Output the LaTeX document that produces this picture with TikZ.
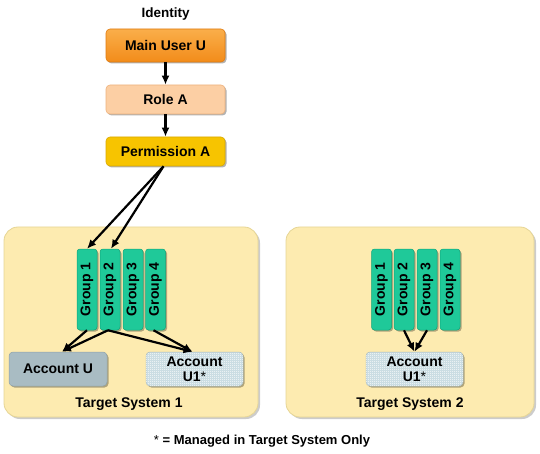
\documentclass[tikz,border=0pt]{standalone}
\usepackage{fontspec}
\setmainfont{Liberation Sans}
\usetikzlibrary{shadows,arrows.meta,patterns}
\pgfdeclarepatternformonly{finecheck}{\pgfpointorigin}{\pgfqpoint{2pt}{2pt}}{\pgfqpoint{2pt}{2pt}}{%
  \pgfpathrectangle{\pgfpointorigin}{\pgfqpoint{1pt}{1pt}}%
  \pgfpathrectangle{\pgfqpoint{1pt}{1pt}}{\pgfqpoint{1pt}{1pt}}%
  \pgfusepath{fill}}
\definecolor{orgtop}{HTML}{FAAE4A}
\definecolor{orgbot}{HTML}{F28C1A}
\definecolor{orgline}{HTML}{E07B10}
\definecolor{rolefill}{HTML}{FCCFA4}
\definecolor{roleline}{HTML}{EDB27E}
\definecolor{permfill}{HTML}{F7C400}
\definecolor{permline}{HTML}{D9A800}
\definecolor{grpfill}{HTML}{1FC999}
\definecolor{grpline}{HTML}{10A57A}
\definecolor{tsfill}{HTML}{FDEBB0}
\definecolor{tsline}{HTML}{E6D595}
\definecolor{accfill}{HTML}{A9BCC3}
\definecolor{accline}{HTML}{8EA2AA}
\definecolor{chkbase}{HTML}{C4D9DF}
\definecolor{chkline}{HTML}{A0B4BA}
\tikzset{
  txt/.style={font=\bfseries\fontsize{14}{15}\selectfont},
  shad/.style={drop shadow={shadow xshift=1.5pt,shadow yshift=-1.5pt,opacity=0.3,fill=black}},
  idbox/.style={txt,shad,rectangle,rounded corners=4pt,minimum width=119pt,inner sep=0pt,line width=0.6pt},
  tsbox/.style={rectangle,rounded corners=14pt,fill=tsfill,draw=tsline,line width=0.8pt,
     drop shadow={shadow xshift=2pt,shadow yshift=-2pt,opacity=0.2,fill=black}},
  grp/.style={txt,shad,rectangle,rounded corners=3pt,rotate=90,minimum width=81pt,minimum height=20pt,
     inner sep=0pt,fill=grpfill,draw=grpline,line width=0.5pt},
  accbox/.style={txt,shad,rectangle,rounded corners=4pt,minimum width=97pt,minimum height=34pt,
     inner sep=0pt,line width=0.5pt,align=center},
  chkbox/.style={accbox,fill=chkbase,draw=chkline,postaction={pattern=finecheck,pattern color=white}},
  arr/.style={-{Latex[length=9pt,width=8pt]},line width=2.2pt,black},
}
\begin{document}
\begin{tikzpicture}[x=1pt,y=-1pt]
\useasboundingbox (0,0) rectangle (540,454);
% identity column
\node[txt,font=\bfseries\fontsize{13.5}{15}\selectfont] (ident) at (165.5,14) {Identity};
\node[idbox,minimum height=33pt,top color=orgtop,bottom color=orgbot,draw=orgline] (user) at (165.5,45.5) {Main User U};
\node[idbox,minimum height=29pt,fill=rolefill,draw=roleline] (role) at (165.5,99.5) {Role A};
\node[idbox,minimum height=29pt,fill=permfill,draw=permline] (perm) at (165.5,151.5) {Permission A};
% target systems
\node[tsbox,minimum width=254pt,minimum height=190pt] (ts1) at (131,322) {};
\node[tsbox,minimum width=248pt,minimum height=190pt] (ts2) at (410,322) {};
\node[txt] (ts1l) at (129,404) {Target System 1};
\node[txt] (ts2l) at (410,404) {Target System 2};
% groups TS1
\node[grp] (a1) at (87,289.5) {Group 1};
\node[grp] (a2) at (110,289.5) {Group 2};
\node[grp] (a3) at (133,289.5) {Group 3};
\node[grp] (a4) at (155.5,289.5) {Group 4};
% groups TS2
\node[grp] (b1) at (381.5,289.5) {Group 1};
\node[grp] (b2) at (404,289.5) {Group 2};
\node[grp] (b3) at (427,289.5) {Group 3};
\node[grp] (b4) at (450,289.5) {Group 4};
% accounts
\node[accbox,minimum width=98pt,fill=accfill,draw=accline] (accu) at (58,369) {Account U};
\node[chkbox] (acc1) at (194.5,369) {Account\\U1{\mdseries *}};
\node[chkbox] (acc2) at (414.5,369) {Account\\U1{\mdseries *}};
% footnote
\node[txt,font=\bfseries\fontsize{13}{15}\selectfont] (note) at (262,441) {{\mdseries *} = Managed in Target System Only};
% connectors
\draw[arr] (user.south) -- (role.north);
\draw[arr] (role.south) -- (perm.north);
\draw[arr] ([xshift=-2pt]perm.south) -- (a1.east);
\draw[arr] ([xshift=-2pt]perm.south) -- ([xshift=1pt]a2.east);
\draw[arr] (a1.west) -- ([xshift=4pt]accu.north);
\draw[arr] ([xshift=-2pt]a2.west) -- ([xshift=4pt]accu.north);
\draw[arr] ([xshift=-2pt]a2.west) -- ([xshift=-2pt]acc1.north);
\draw[arr] ([xshift=-2pt]a4.west) -- ([xshift=-2pt]acc1.north);
\draw[arr] (b2.west) -- (acc2.north);
\draw[arr] (b3.west) -- (acc2.north);
\end{tikzpicture}
\end{document}
